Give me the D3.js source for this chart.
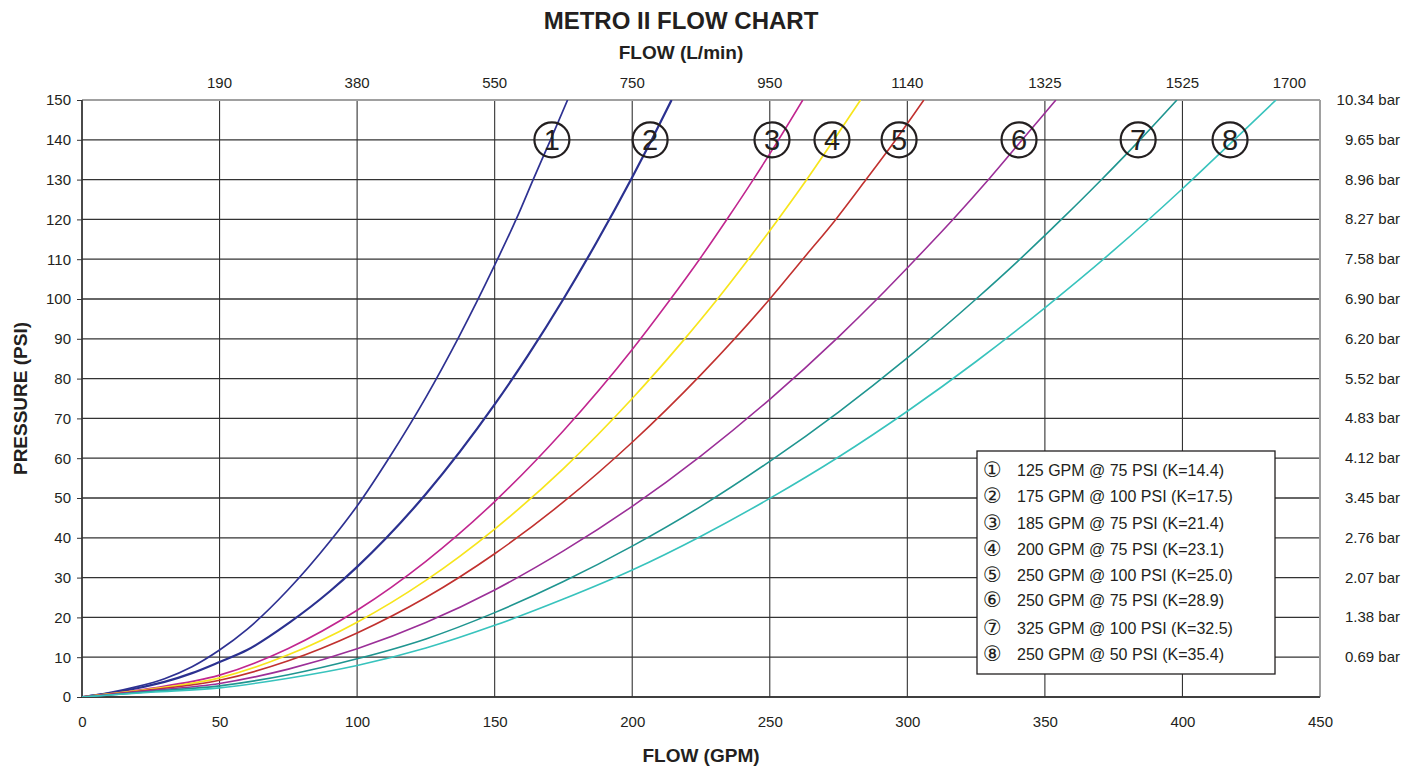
<!DOCTYPE html>
<html>
<head>
<meta charset="utf-8">
<script src="https://cdn.jsdelivr.net/npm/d3@7"></script>
<style>
  body { margin: 0; background: #fff; }
  svg text { font-family: "Liberation Sans", Arial, sans-serif; fill: #231f20; }
</style>
</head>
<body>
<div id="chart"></div>
<script>
// Points : [GPM, PSI]
const curve1 = [[0,0],[10,1.1],[20,2.6],[30,4.6],[40,7.6],[50,11.8],[60,17.0],[75,27.0],[90,39.0],[100,48.0],[112,60.5],[125,75.3],[137,90.5],[150,108.5],[158,120.3],[164,130.0],[170,139.5],[176.5,150]];
const curve2 = [[0,0],[10,0.9],[20,2.2],[30,3.8],[40,6.0],[50,8.8],[60,11.8],[75,18.5],[90,26.5],[100,32.7],[125,51.0],[150,73.5],[162,85.7],[175,100],[187,114.2],[200,130.6],[207,139.9],[214.3,150]];
const curve3 = [[0,0],[10,0.8],[25,2.2],[50,5.5],[75,12.2],[100,21.8],[125,34.1],[150,49.1],[175,66.9],[200,87.3],[213,99.1],[225,110.5],[235,120.6],[244,130],[253,139.8],[262,150]];
const curve4 = [[0,0],[10,0.8],[25,2.0],[50,4.8],[75,10.6],[100,18.8],[125,29.3],[150,42.2],[175,57.4],[200,75],[218,89.1],[231,100],[242,109.8],[253,120],[263,129.6],[273,139.7],[283,150]];
const curve5 = [[0,0],[10,0.7],[25,1.8],[50,4.2],[75,9.1],[100,16.1],[125,25],[150,36],[175,49],[200,64],[225,81],[250,100],[262,110],[274,120],[285,130],[296,140.2],[306,150]];
const curve6 = [[0,0],[10,0.6],[25,1.6],[50,3.4],[75,7.0],[100,12.1],[125,18.7],[150,26.9],[175,36.7],[200,47.9],[225,60.6],[250,74.8],[275,90.5],[289,100],[303,110],[317,120.3],[330,130.4],[342,140.2],[354,150]];
const curve7 = [[0,0],[10,0.5],[25,1.4],[50,2.8],[75,5.6],[100,9.6],[125,14.6],[150,21.2],[175,29],[200,37.9],[225,47.9],[250,59.2],[275,71.6],[300,85.2],[325,100],[340,109.4],[356,120],[370,129.6],[385,140.3],[398,150]];
const curve8 = [[0,0],[10,0.5],[25,1.2],[50,2.3],[75,4.7],[100,7.9],[125,12.3],[150,18.0],[175,24.6],[200,31.9],[225,40.4],[250,49.9],[275,60.3],[300,71.8],[325,84.3],[350,97.8],[375,112.2],[400,127.7],[417,138.8],[434,150]];

const curves = [curve1, curve2, curve3, curve4, curve5, curve6, curve7, curve8];
const colors = ["#2e3192", "#2b3190", "#c1268f", "#f7e51c", "#c1312f", "#9b2f98", "#1f9590", "#38c3bd"];
const widths = [1.7, 2.2, 1.6, 1.7, 1.6, 1.6, 1.6, 1.6];

const legendLabels = [
    "125 GPM @ 75 PSI (K=14.4)",
    "175 GPM @ 100 PSI (K=17.5)",
    "185 GPM @ 75 PSI (K=21.4)",
    "200 GPM @ 75 PSI (K=23.1)",
    "250 GPM @ 100 PSI (K=25.0)",
    "250 GPM @ 75 PSI (K=28.9)",
    "325 GPM @ 100 PSI (K=32.5)",
    "250 GPM @ 50 PSI (K=35.4)"
];
const circled = ["①", "②", "③", "④", "⑤", "⑥", "⑦", "⑧"];
// position (GPM) des numéros cerclés sur la ligne 140 PSI
const markerGpm = [170.8, 206.5, 250.8, 272.6, 297, 340.6, 383.9, 417.3];

const gpmTicks = [0, 50, 100, 150, 200, 250, 300, 350, 400, 450];
const lpmLabels = ["190", "380", "550", "750", "950", "1140", "1325", "1525", "1700"];
const psiTicks = d3.range(0, 151, 10);
const barLabels = ["0.69", "1.38", "2.07", "2.76", "3.45", "4.12", "4.83", "5.52", "6.20", "6.90", "7.58", "8.27", "8.96", "9.65", "10.34"];

const W = 1415, H = 770;
const margin = { top: 100, right: 95, bottom: 73, left: 82 };
const width = W - margin.left - margin.right;
const height = H - margin.top - margin.bottom;

const svg = d3.select("#chart").append("svg")
    .attr("width", W)
    .attr("height", H);

const g = svg.append("g")
    .attr("transform", "translate(" + margin.left + "," + margin.top + ")");

const x = d3.scaleLinear().domain([0, 450]).range([0, width]);
const y = d3.scaleLinear().domain([0, 150]).range([height, 0]);

// Grille
g.selectAll(".hgrid")
    .data(psiTicks)
    .enter()
    .append("line")
    .attr("x1", 0).attr("x2", width)
    .attr("y1", d => y(d)).attr("y2", d => y(d))
    .attr("stroke", "#333")
    .attr("stroke-width", 1.3);

g.selectAll(".vgrid")
    .data(gpmTicks)
    .enter()
    .append("line")
    .attr("x1", d => x(d)).attr("x2", d => x(d))
    .attr("y1", 0).attr("y2", height)
    .attr("stroke", "#333")
    .attr("stroke-width", 1.1);

// Bordure haut / droite en gris
g.append("line").attr("x1", 0).attr("x2", width).attr("y1", 0).attr("y2", 0)
    .attr("stroke", "#a0a0a0").attr("stroke-width", 2);
g.append("line").attr("x1", width).attr("x2", width).attr("y1", 0).attr("y2", height)
    .attr("stroke", "#a0a0a0").attr("stroke-width", 2);
g.append("line").attr("x1", 0).attr("x2", 0).attr("y1", 0).attr("y2", height)
    .attr("stroke", "#333").attr("stroke-width", 1.5);
g.append("line").attr("x1", 0).attr("x2", width).attr("y1", height).attr("y2", height)
    .attr("stroke", "#333").attr("stroke-width", 1.5);

// Axe gauche (PSI)
const yAxis = g.append("g")
    .call(d3.axisLeft(y).tickValues(psiTicks).tickSize(5).tickPadding(6));
yAxis.select(".domain").remove();
yAxis.selectAll("line").attr("stroke", "#333");
yAxis.selectAll("text").style("font-size", "15px").attr("fill", "#231f20");

// Axe bas (GPM)
const xAxis = g.append("g")
    .attr("transform", "translate(0," + height + ")")
    .call(d3.axisBottom(x).tickValues(gpmTicks).tickSize(0).tickPadding(19));
xAxis.select(".domain").remove();
xAxis.selectAll("text").style("font-size", "15px").attr("fill", "#231f20");

// Axe haut (L/min)
g.selectAll(".toplabel")
    .data(lpmLabels)
    .enter()
    .append("text")
    .attr("x", (d, i) => i === lpmLabels.length - 1 ? x(gpmTicks[i + 1]) - 14 : x(gpmTicks[i + 1]))
    .attr("y", -12)
    .attr("text-anchor", (d, i) => i === lpmLabels.length - 1 ? "end" : "middle")
    .style("font-size", "15px")
    .text(d => d);

// Axe droit (bar)
g.selectAll(".barlabel")
    .data(barLabels)
    .enter()
    .append("text")
    .attr("x", width + 80)
    .attr("y", (d, i) => y(psiTicks[i + 1]) + 5)
    .attr("text-anchor", "end")
    .style("font-size", "15px")
    .text(d => d + " bar");

// Courbes
g.append("clipPath").attr("id", "plot-clip")
    .append("rect").attr("width", width).attr("height", height);

const line = d3.line()
    .x(d => x(d[0]))
    .y(d => y(d[1]))
    .curve(d3.curveMonotoneX);

g.append("g").attr("clip-path", "url(#plot-clip)")
    .selectAll(".curve")
    .data(curves)
    .enter()
    .append("path")
    .attr("d", line)
    .attr("fill", "none")
    .attr("stroke", (d, i) => colors[i])
    .attr("stroke-width", (d, i) => widths[i]);

// Numéros cerclés sur les courbes
const markers = g.selectAll(".marker")
    .data(markerGpm)
    .enter()
    .append("g")
    .attr("transform", d => "translate(" + x(d) + "," + y(140) + ")");

markers.append("circle")
    .attr("r", 17.5)
    .attr("fill", "none")
    .attr("stroke", "#231f20")
    .attr("stroke-width", 2.2);

markers.append("text")
    .attr("text-anchor", "middle")
    .attr("dy", 10)
    .style("font-size", "29px")
    .text((d, i) => i + 1);

// Légende
const legend = g.append("g")
    .attr("transform", "translate(" + (977 - margin.left) + "," + (451 - margin.top) + ")");

legend.append("rect")
    .attr("width", 298)
    .attr("height", 223)
    .attr("fill", "#fff")
    .attr("stroke", "#231f20")
    .attr("stroke-width", 1.3);

const legendY = [19, 45, 72, 98, 124, 149, 177, 203];

legend.selectAll(".lsym")
    .data(circled)
    .enter()
    .append("text")
    .attr("x", 6)
    .attr("y", (d, i) => legendY[i] + 7)
    .style("font-family", "'DejaVu Sans', sans-serif")
    .style("font-size", "21px")
    .text(d => d);

legend.selectAll(".ltext")
    .data(legendLabels)
    .enter()
    .append("text")
    .attr("x", 40)
    .attr("y", (d, i) => legendY[i] + 6)
    .style("font-size", "16px")
    .text(d => d);

// Titres
svg.append("text")
    .attr("x", 681).attr("y", 29)
    .attr("text-anchor", "middle")
    .style("font-size", "24px").style("font-weight", "bold")
    .text("METRO II FLOW CHART");

svg.append("text")
    .attr("x", 681).attr("y", 59)
    .attr("text-anchor", "middle")
    .style("font-size", "19px").style("font-weight", "bold")
    .text("FLOW (L/min)");

svg.append("text")
    .attr("x", 701).attr("y", 762)
    .attr("text-anchor", "middle")
    .style("font-size", "19px").style("font-weight", "bold")
    .text("FLOW (GPM)");

svg.append("text")
    .attr("transform", "translate(27," + (margin.top + height / 2) + ") rotate(-90)")
    .attr("text-anchor", "middle")
    .style("font-size", "19px").style("font-weight", "bold")
    .text("PRESSURE (PSI)");
</script>
</body>
</html>
